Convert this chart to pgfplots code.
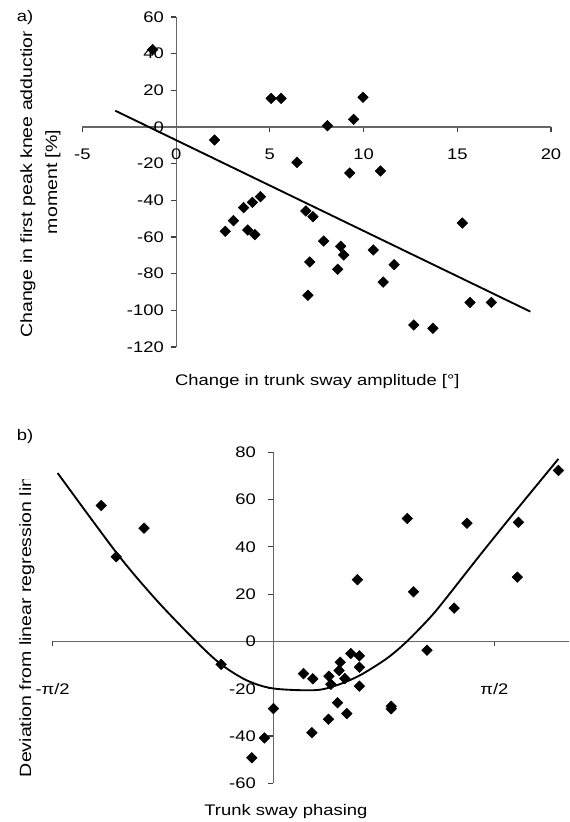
\documentclass[border=0pt]{standalone}
\usepackage{fontspec}
\setmainfont{Liberation Sans}[FakeStretch=1.2]
\usepackage{pgfplots}
\pgfplotsset{compat=1.18}

% 1 px of the reference = 0.75pt
\pgfplotsset{
  panel/.style={
    scale only axis, anchor=south west,
    axis lines=middle, axis line style={-, black!60, line width=0.9pt},
    tick align=outside, major tick length=3.75pt,
    tick style={black!75, line width=0.9pt},
    hide obscured x ticks=false, hide obscured y ticks=false,
    font=\fontsize{11.5}{13.8}\selectfont,
    /pgf/number format/assume math mode=true,
    clip=false,
  },
  dots/.style={only marks, mark=square*, mark size=2.8pt,
    mark options={rotate=45, fill=black, draw=black}},
}

\begin{document}
\begin{tikzpicture}
\useasboundingbox (0,0) rectangle (426.75pt,616.5pt);

% a) amplitude vs knee adduction moment
\begin{axis}[panel, at={(61.8pt,356.25pt)}, width=351.45pt, height=247.5pt,
  xmin=-5, xmax=20, ymin=-120, ymax=60,
  xtick={-5,0,5,10,15,20}, ytick={-120,-100,...,60},
  xticklabel style={anchor=center, yshift=-17pt},
  yticklabel style={xshift=-2pt}]
\addplot[dots] table {
x y
-1.25 42.2
2.05 -7.1
5.07 15.6
5.6 15.6
6.45 -19.3
8.07 0.7
9.47 4.2
9.97 16.2
9.26 -25.1
10.9 -24.0
2.62 -56.9
3.06 -51.1
3.6 -44.0
4.07 -41.1
4.5 -38.0
3.82 -56.2
4.2 -58.7
6.92 -45.8
7.3 -48.9
7.87 -62.2
7.13 -73.6
7.03 -91.8
8.78 -65.1
8.94 -69.8
8.62 -77.6
10.52 -67.1
11.63 -75.1
11.05 -84.6
12.68 -108.0
13.7 -109.8
15.27 -52.4
15.68 -95.7
16.82 -95.7
};
\addplot[no marks, black, line width=1.4pt] coordinates {(-3.25,8.9) (18.9,-100.7)};
\end{axis}

% b) phasing vs deviation from regression line (x in units of pi/2)
\begin{axis}[panel, at={(39.45pt,29.0pt)}, width=387.3pt, height=248.3pt,
  xmin=-1, xmax=1.338, ymin=-60, ymax=80,
  xtick={-1,1}, xticklabels={-π/2,π/2}, ytick={-60,-40,...,80},
  xticklabel style={anchor=center, yshift=-32pt},
  yticklabel style={xshift=-6pt}]
\addplot[dots] table {
x y
-0.78 57.5
-0.712 35.8
-0.586 47.9
-0.237 -9.7
-0.041 -40.8
-0.098 -49.2
0.0 -28.4
0.136 -13.6
0.178 -15.8
0.174 -38.6
0.251 -14.7
0.26 -18.1
0.302 -8.8
0.297 -12.3
0.323 -15.7
0.35 -5.1
0.389 -6.1
0.389 -10.9
0.389 -18.9
0.29 -25.9
0.332 -30.5
0.249 -32.9
0.533 -27.4
0.533 -28.5
0.38 26.1
0.606 52.0
0.634 21.0
0.695 -3.7
0.818 14.1
0.876 50.0
1.104 27.2
1.109 50.4
1.29 72.3
};
\addplot[no marks, black, line width=1.4pt, smooth, tension=0.5] coordinates {
(-0.977,71.2) (-0.709,37.3) (-0.53,17.5) (-0.35,0)
(-0.237,-9.7) (-0.12,-16.5) (0.0,-19.9) (0.189,-20.6)
(0.287,-18.5) (0.392,-14.3) (0.513,-7.2) (0.604,0) (0.706,9.8)
(0.769,16.8) (0.935,36.5) (1.086,54.0) (1.29,77.2)};
\end{axis}

% labels
\begin{scope}[font=\fontsize{11.5}{13.8}\selectfont]
\node at (18.75pt,603pt) {a)};
\node at (18.75pt,288.75pt) {b)};
\node[anchor=base] at (238pt,327pt) {Change in trunk sway amplitude [°]};
\node[anchor=base] at (214.4pt,5.25pt) {Trunk sway phasing};
\end{scope}
\begin{scope}[font=\fontsize{12.2}{14.6}\selectfont]
\node[rotate=90] at (39.75pt,480pt) {moment [\%]};
\begin{scope}
\clip (0pt,0pt) rectangle (60pt,592.5pt);
\node[rotate=90] at (21pt,480pt) {Change in first peak knee adduction};
\end{scope}
\begin{scope}
\clip (0pt,0pt) rectangle (38pt,256.5pt);
\node[rotate=90, anchor=west] at (20.25pt,30.2pt) {Deviation from linear regression line};
\end{scope}
\end{scope}
\end{tikzpicture}
\end{document}
